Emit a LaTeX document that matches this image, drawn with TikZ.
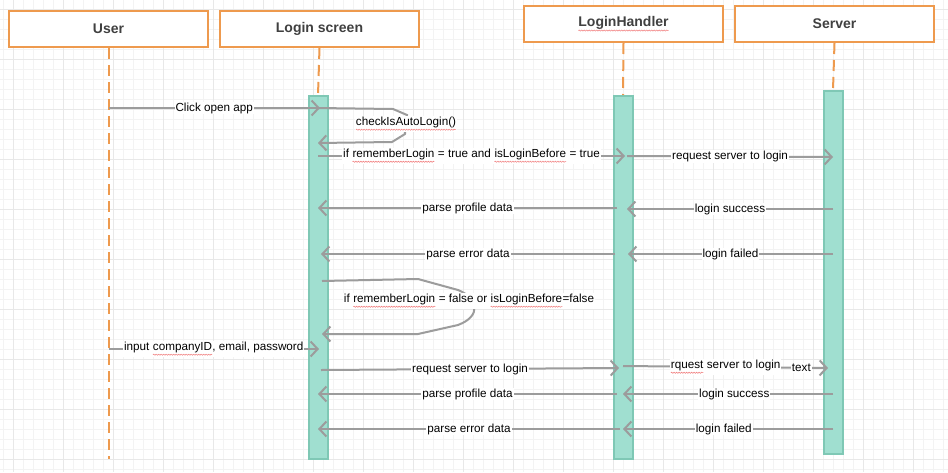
\documentclass[tikz,border=0pt]{standalone}
\usepackage{fontspec}
\setmainfont{Liberation Sans}
\usetikzlibrary{arrows.meta, positioning, decorations.pathmorphing}
\definecolor{boxorange}{HTML}{EE9A4E}
\definecolor{headtext}{HTML}{404040}
\definecolor{actfill}{HTML}{A0DFD0}
\definecolor{actdraw}{HTML}{7FC8B5}
\definecolor{msggray}{HTML}{9C9C9C}
\definecolor{spellred}{HTML}{F07878}
\definecolor{gridminor}{HTML}{F3F3F3}
\definecolor{gridmajor}{HTML}{E8E8E8}
\tikzset{%
	head/.style={draw=boxorange, line width=2pt, rectangle, minimum width=199pt,%
		minimum height=36pt, inner sep=0pt, fill=white, text=headtext,%
		font=\fontsize{14}{16}\selectfont\bfseries},
	life/.style={draw=boxorange, line width=2pt, dash pattern=on 11pt off 6pt},
	act/.style={draw=actdraw, line width=2pt, fill=actfill, minimum width=19pt,%
		inner sep=0pt, anchor=north},
	msg/.style={draw=msggray, line width=2pt, -{Straight Barb[length=7pt,width=15pt]}},
	lbl/.style={fill=white, inner sep=1pt, text=black, font=\fontsize{11.7}{14}\selectfont},
	wave/.style={draw=spellred, arrows=-, solid, line width=0.5pt, decorate,%
		decoration={snake, amplitude=0.6pt, segment length=2.5pt}},
	gridline/.style={draw=gridminor, line width=0.7pt},
	gridbold/.style={draw=gridmajor, line width=0.7pt}
}
% red wavy mark under a word
\newcommand{\spell}[1]{\tikz[baseline=(sp.base)]{%
	\node[inner sep=0pt, outer sep=0pt, minimum size=0pt, draw=none, fill=none, anchor=base] (sp) at (0,0) {#1};%
	\draw[wave] ([yshift=-3.8pt]sp.base west) -- ([yshift=-3.8pt]sp.base east);}}

\begin{document}
\begin{tikzpicture}[x=1pt, y=-1pt]
	\useasboundingbox (0,0) rectangle (948,472);
	\fill[white] (0,0) rectangle (948,472);
	% background grid
	\foreach \gx in {3,13,...,943} \draw[gridline] (\gx,0) -- (\gx,472);
	\foreach \gy in {9,19,...,469} \draw[gridline] (0,\gy) -- (948,\gy);
	\foreach \gx in {13,63,...,913} \draw[gridbold] (\gx,0) -- (\gx,472);
	\foreach \gy in {9,59,...,459} \draw[gridbold] (0,\gy) -- (948,\gy);

	% participants
	\node[head]                       (user)    at (108.5,29) {User};
	\node[head, right=10pt of user]   (screen)  {Login screen};
	\node[head]                       (handler) at (623.5,24) {\spell{LoginHandler}};
	\node[head, right=10pt of handler] (server) {Server};

	% activations
	\node[act, minimum height=363pt] (actS) at (318,95) {};
	\node[act, minimum height=363pt] (actH) at (623,95) {};
	\node[act, minimum height=363pt] (actV) at (833,90) {};

	% lifelines
	\draw[life] (user.south) -- (user.south |- 0,459);
	\draw[life] (screen.south) -- (actS.north);
	\draw[life] (handler.south) -- (actH.north);
	\draw[life] (server.south) -- (actV.north);

	% auto login
	\draw[msg] (user |- 0,108) -- node[lbl]{Click open app} ([xshift=2pt]actS |- 0,108);
	\draw[msg] (actS |- 0,108) -- (393,109) -- (407,115) -- (405,134) -- (392,142) -- (actS |- 0,143);
	\node[lbl] (check) at (406,124) {\spell{checkIsAutoLogin()}};
	\draw[msg] (actS |- 0,156) -- node[lbl]{if \spell{rememberLogin} = true and \spell{isLoginBefore} = true} ([xshift=2pt]actH |- 0,156);
	\draw[msg] ([xshift=4pt]actH |- 0,156) -- node[lbl]{request server to login} (actV |- 0,157);
	\draw[msg] (actV |- 0,209) -- node[lbl]{login success} ([xshift=4pt]actH |- 0,209);
	\draw[msg] ([xshift=-6pt]actH |- 0,208) -- node[lbl]{parse profile data} (actS |- 0,208);
	\draw[msg] (actV |- 0,254) -- node[lbl]{login failed} ([xshift=5pt]actH |- 0,254);
	\draw[msg] ([xshift=-8pt]actH |- 0,254) -- node[lbl]{parse error data} ([xshift=3pt]actS |- 0,254);

	% manual login
	\draw[msg] ([xshift=4pt]actS |- 0,281) -- (418,279) -- (458,290) .. controls (478,298) and (482,316) .. (458,325) -- (418,334) -- ([xshift=4pt]actS |- 0,334);
	\node[lbl] (manual) at (469,301) {if \spell{rememberLogin} = false or \spell{isLoginBefore}=false};
	\draw[msg] (user |- 0,349) -- node[lbl]{input \spell{companyID}, email, password} ([xshift=1pt]actS |- 0,349);
	\draw[msg] ([xshift=3pt]actS |- 0,370) -- node[lbl]{request server to login} ([xshift=-4pt]actH |- 0,368);
	\draw[msg] (actH |- 0,366) -- node[lbl, pos=0.5]{\spell{rquest} server to login} node[lbl, pos=0.87]{text} ([xshift=-5pt]actV |- 0,368);
	\draw[msg] (actV |- 0,394) -- node[lbl, pos=0.47]{login success} (actH |- 0,394);
	\draw[msg] ([xshift=-6pt]actH |- 0,394) -- node[lbl]{parse profile data} (actS |- 0,394);
	\draw[msg] (actV |- 0,429) -- node[lbl, pos=0.52]{login failed} (actH |- 0,429);
	\draw[msg] ([xshift=-3pt]actH |- 0,429) -- node[lbl]{parse error data} (actS |- 0,429);
\end{tikzpicture}
\end{document}
